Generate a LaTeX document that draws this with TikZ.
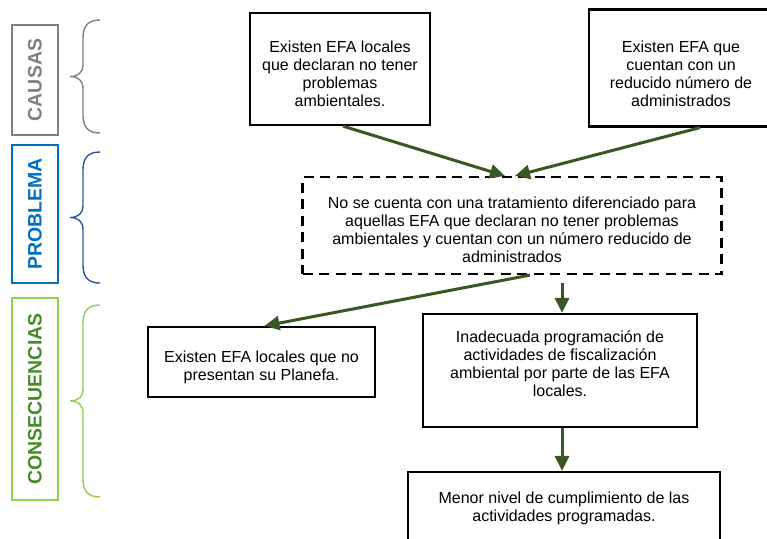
\documentclass[tikz,border=0pt]{standalone}
\usepackage{fontspec}
\setmainfont{Liberation Sans}[BoldFont={Liberation Sans Bold}]
\usetikzlibrary{arrows.meta}

\definecolor{flecha}{RGB}{56,87,35}
\definecolor{gris}{RGB}{128,128,128}
\definecolor{azul}{RGB}{0,112,192}
\definecolor{azuloscuro}{RGB}{47,85,151}
\definecolor{verdeclaro}{RGB}{146,208,80}
\definecolor{verde}{RGB}{70,140,40}

% llave vertical: color, arriba, abajo
\newcommand{\llave}[3]{%
  \pgfmathsetmacro{\ymed}{(#2+#3)/2}%
  \draw[#1, line width=1.4pt]
    (100,#2) .. controls (88,#2) and (83,#2+6) .. (83,#2+18)
    -- (83,\ymed-12) .. controls (83,\ymed-4) and (78,\ymed) .. (70,\ymed)
    .. controls (78,\ymed) and (83,\ymed+4) .. (83,\ymed+12)
    -- (83,#3-18) .. controls (83,#3-6) and (88,#3) .. (100,#3);}
% espacio arriba / abajo del texto
\newcommand{\arriba}[1]{\rule{0pt}{#1}}
\newcommand{\abajo}[1]{\rule[-#1]{0pt}{#1}}

\begin{document}
\begin{tikzpicture}[x=1pt,y=-1pt,
  caja/.style={draw=black, line width=2.2pt, align=center,
    font=\fontsize{16}{18}\selectfont, inner sep=3pt},
  etiqueta/.style={line width=2pt, rotate=90, minimum height=46pt,
    font=\bfseries\fontsize{19.5}{21}\selectfont},
  flechita/.style={draw=flecha, line width=3pt,
    -{Triangle[length=15pt,width=14pt]}}]
  \useasboundingbox (0,0) rectangle (767,538);

  % columna izquierda
  \node[etiqueta, draw=gris, text=gris, minimum width=110pt] (causas) at (35,80) {CAUSAS};
  \node[etiqueta, draw=azul, text=azul, minimum width=138pt] (problema) at (35,214) {PROBLEMA};
  \node[etiqueta, draw=verdeclaro, text=verde, minimum width=202pt] (consec) at (35,399) {CONSECUENCIAS};

  \llave{gris}{20}{133}
  \llave{azuloscuro}{152}{283}
  \llave{verdeclaro}{305}{497}

  % causas
  \node[caja, minimum width=180pt, minimum height=112pt] (c1) at (340,69)
    {\arriba{22pt}Existen EFA locales\\que declaran no tener\\problemas\\ambientales.};
  \node[caja, minimum width=184pt, minimum height=117pt] (c2) at (681,68)
    {\arriba{24pt}Existen EFA que\\cuentan con un\\reducido número de\\administrados};

  % problema
  \node[caja, dash pattern=on 10pt off 6.5pt, minimum width=419pt, minimum height=97pt] (prob) at (512,225.5)
    {\arriba{21pt}No se cuenta con una tratamiento diferenciado para\\aquellas EFA que declaran no tener problemas\\ambientales y cuentan con un número reducido de\\administrados};

  % consecuencias
  \node[caja, minimum width=227pt, minimum height=70pt] (k1) at (261.5,362)
    {\arriba{22pt}Existen EFA locales que no\\presentan su Planefa.};
  \node[caja, minimum width=274pt, minimum height=113pt] (k2) at (560,370.5)
    {Inadecuada programación de\\actividades de fiscalización\\ambiental por parte de las EFA\\locales.\abajo{13pt}};
  \node[caja, minimum width=312pt, minimum height=72pt] (k3) at (564,508)
    {Menor nivel de cumplimiento de las\\actividades programadas.};

  \draw[flechita] ([xshift=3pt]c1.south) -- ([xshift=-7pt]prob.north);
  \draw[flechita] ([xshift=19pt]c2.south) -- ([xshift=3pt]prob.north);
  \draw[flechita] ([xshift=18pt]prob.south) -- ([xshift=3pt]k1.north);
  \draw[flechita] ([xshift=50pt,yshift=-8pt]prob.south) -- ([xshift=2pt]k2.north);
  \draw[flechita] ([xshift=2pt]k2.south) -- ([xshift=-2pt]k3.north);
\end{tikzpicture}
\end{document}
